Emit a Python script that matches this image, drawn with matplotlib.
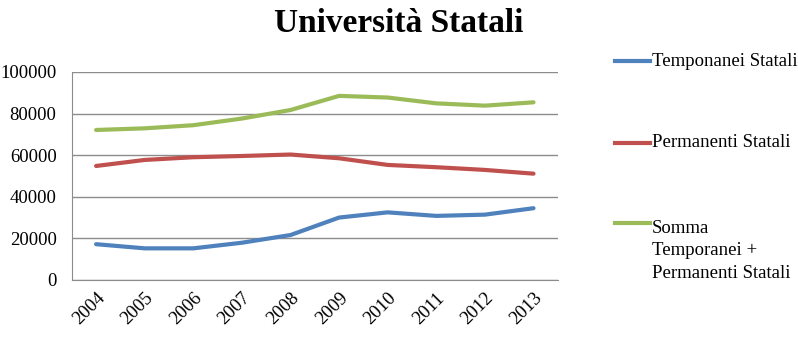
import matplotlib.pyplot as plt
from matplotlib.lines import Line2D

years = ['2004', '2005', '2006', '2007', '2008', '2009', '2010', '2011', '2012', '2013']
temporanei = [17200, 15200, 15200, 17900, 21600, 30000, 32500, 30800, 31400, 34500]
permanenti = [54800, 57700, 59000, 59600, 60300, 58500, 55300, 54200, 52900, 51100]
somma = [72100, 72900, 74400, 77600, 81700, 88500, 87700, 84900, 83800, 85400]

labels = ['Temponanei Statali', 'Permanenti Statali',
          'Somma\nTemporanei +\nPermanenti Statali']
colors = ['#4F81BD', '#C0504D', '#9BBB59']

plt.rcParams['font.family'] = ['Liberation Serif', 'DejaVu Serif']

fig = plt.figure(figsize=(7.98, 3.41), dpi=100)
ax = fig.add_axes([0.090, 0.179, 0.609, 0.610])

x = range(len(years))
for vals, c in zip([temporanei, permanenti, somma], colors):
    ax.plot(x, vals, color=c, linewidth=3, solid_capstyle='round')

ax.set_xlim(-0.5, len(years) - 0.5)
ax.set_ylim(0, 100000)
ax.set_yticks(range(0, 100001, 20000))
ax.set_xticks(list(x))
ax.set_xticklabels(years, rotation=45, ha='right', rotation_mode='anchor')
ax.tick_params(axis='both', length=0, labelsize=13.5)
ax.tick_params(axis='y', pad=11)
ax.tick_params(axis='x', pad=7)
ax.yaxis.grid(True, color='#8c8c8c', linewidth=1)
ax.set_axisbelow(True)
for s in ['top', 'right']:
    ax.spines[s].set_visible(False)
for s in ['left', 'bottom']:
    ax.spines[s].set_color('#8c8c8c')

fig.text(0.5, 0.93, 'Università Statali', ha='center', va='center',
         fontsize=24, fontweight='bold')

# legend drawn on the right side
key_y = [0.821, 0.581, 0.346]
for ky, c, lab in zip(key_y, colors, labels):
    fig.add_artist(Line2D([0.771, 0.815], [ky, ky], color=c, linewidth=3,
                          transform=fig.transFigure))
    if '\n' in lab:
        fig.text(0.817, ky + 0.01, lab, ha='left', va='top', fontsize=13.5,
                 linespacing=1.45)
    else:
        fig.text(0.817, ky, lab, ha='left', va='center', fontsize=13.5)

fig.savefig('out.png', dpi=100)
